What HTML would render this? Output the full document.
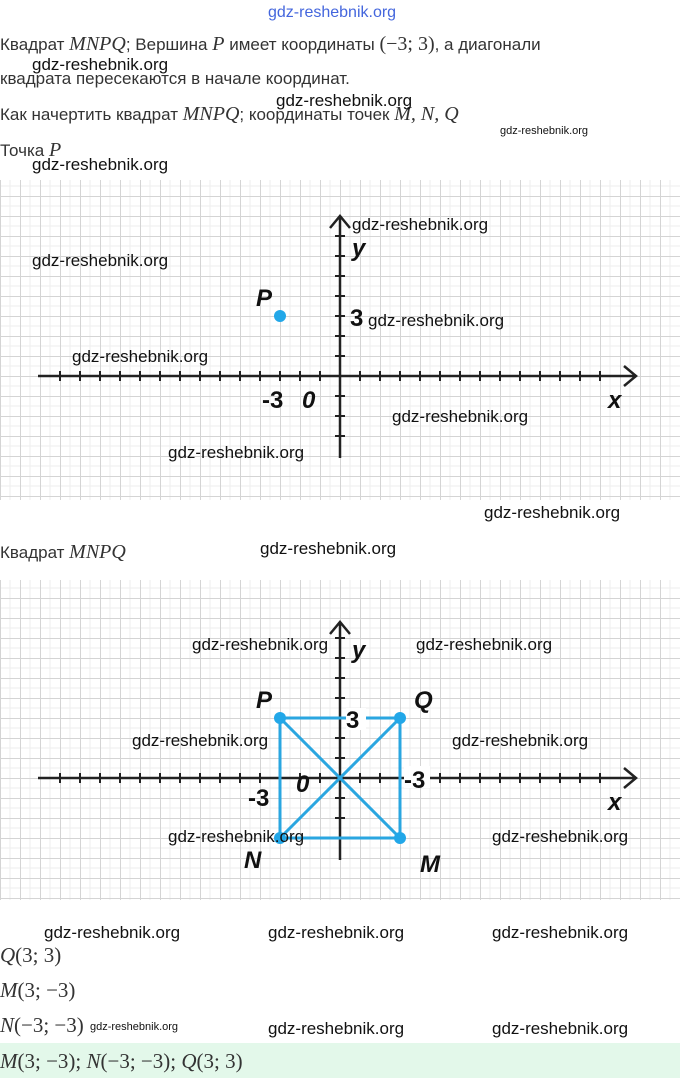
<!DOCTYPE html>
<html><head><meta charset="utf-8"><style>
body{margin:0;width:680px;height:1078px;background:#fff;overflow:hidden;font-family:"Liberation Sans",sans-serif;}
svg{display:block}
.t{font-family:"Liberation Sans",sans-serif;font-size:17px;fill:#333}
.m{font-family:"Liberation Serif",serif;font-style:italic;font-size:20px;fill:#333}
.w{font-family:"Liberation Sans",sans-serif;font-size:17px;fill:#111}
.lb{font-family:"Liberation Sans",sans-serif;font-weight:bold;font-style:italic;font-size:24px;fill:#111}
.n{font-family:"Liberation Sans",sans-serif;font-weight:bold;font-size:24px;fill:#111}
</style></head><body>
<svg width="680" height="1078" viewBox="0 0 680 1078">
<defs>
<pattern id="g1" x="0" y="16" width="20" height="20" patternUnits="userSpaceOnUse">
<path d="M0 10H20M10 0V20" stroke="#eee" stroke-width="1" fill="none"/>
<path d="M0 0.5H20M0.5 0V20" stroke="#d4d4d4" stroke-width="1" fill="none"/>
</pattern>
<pattern id="g2" x="0" y="18" width="20" height="20" patternUnits="userSpaceOnUse">
<path d="M0 10H20M10 0V20" stroke="#eee" stroke-width="1" fill="none"/>
<path d="M0 0.5H20M0.5 0V20" stroke="#d4d4d4" stroke-width="1" fill="none"/>
</pattern>
</defs>
<text x="268" y="17" style="font-family:'Liberation Sans',sans-serif;font-size:16px;fill:#4466dd">gdz-reshebnik.org</text>
<text x="0" y="50" class="t">Квадрат <tspan class="m">MNPQ</tspan>; Вершина <tspan class="m">P</tspan> имеет координаты <tspan class="m" style="font-style:normal">(−3; 3)</tspan>, а диагонали</text>
<text x="0" y="84" class="t">квадрата пересекаются в начале координат.</text>
<text x="0" y="120" class="t">Как начертить квадрат <tspan class="m">MNPQ</tspan>; координаты точек <tspan class="m">M, N, Q</tspan></text>
<text x="0" y="156" class="t">Точка <tspan class="m">P</tspan></text>
<text x="32" y="70" class="w">gdz-reshebnik.org</text>
<text x="276" y="106" class="w">gdz-reshebnik.org</text>
<text x="500" y="134" style="font-family:'Liberation Sans',sans-serif;font-size:11px;fill:#111">gdz-reshebnik.org</text>
<text x="32" y="170" class="w">gdz-reshebnik.org</text>

<rect x="0" y="180" width="680" height="320" fill="url(#g1)"/>
<g stroke="#222" stroke-width="2.5" fill="none">
<path d="M38 376H636M624 366L636 376L624 386"/>
<path d="M340 458V216M330 228L340 216L350 228"/>
</g>
<g stroke="#222" stroke-width="2">
<path d="M60 371v10M80 371v10M100 371v10M120 371v10M140 371v10M160 371v10M180 371v10M200 371v10M220 371v10M240 371v10M260 371v10M280 371v10M300 371v10M320 371v10M360 371v10M380 371v10M400 371v10M420 371v10M440 371v10M460 371v10M480 371v10M500 371v10M520 371v10M540 371v10M560 371v10M580 371v10M600 371v10"/>
<path d="M335 236h10M335 256h10M335 276h10M335 296h10M335 316h10M335 336h10M335 356h10M335 396h10M335 416h10M335 436h10"/>
</g>
<circle cx="280" cy="316" r="6" fill="#22a7e8"/>
<text x="256" y="306" class="lb">P</text>
<text x="350" y="326" class="n">3</text>
<text x="262" y="408" class="n">-3</text>
<text x="302" y="408" class="lb">0</text>
<text x="352" y="256" class="lb">y</text>
<text x="608" y="408" class="lb">x</text>
<text x="352" y="230" class="w">gdz-reshebnik.org</text>
<text x="32" y="266" class="w">gdz-reshebnik.org</text>
<text x="368" y="326" class="w">gdz-reshebnik.org</text>
<text x="72" y="362" class="w">gdz-reshebnik.org</text>
<text x="392" y="422" class="w">gdz-reshebnik.org</text>
<text x="168" y="458" class="w">gdz-reshebnik.org</text>
<text x="484" y="518" class="w">gdz-reshebnik.org</text>

<text x="0" y="558" class="t">Квадрат <tspan class="m">MNPQ</tspan></text>
<text x="260" y="554" class="w">gdz-reshebnik.org</text>

<rect x="0" y="580" width="680" height="320" fill="url(#g2)"/>
<g stroke="#222" stroke-width="2.5" fill="none">
<path d="M38 778H636M624 768L636 778L624 788"/>
<path d="M340 860V622M330 634L340 622L350 634"/>
</g>
<g stroke="#222" stroke-width="2">
<path d="M60 773v10M80 773v10M100 773v10M120 773v10M140 773v10M160 773v10M180 773v10M200 773v10M220 773v10M240 773v10M260 773v10M280 773v10M300 773v10M320 773v10M360 773v10M380 773v10M400 773v10M420 773v10M440 773v10M460 773v10M480 773v10M500 773v10M520 773v10M540 773v10M560 773v10M580 773v10M600 773v10"/>
<path d="M335 638h10M335 658h10M335 678h10M335 698h10M335 718h10M335 738h10M335 758h10M335 798h10M335 818h10M335 838h10"/>
</g>
<g stroke="#2aa6e0" stroke-width="3" fill="none">
<path d="M280 718H400V838H280Z"/>
<path d="M280 718L400 838M400 718L280 838"/>
</g>
<g fill="#22a7e8"><circle cx="280" cy="718" r="6"/><circle cx="400" cy="718" r="6"/><circle cx="400" cy="838" r="6"/><circle cx="280" cy="838" r="6"/></g>
<rect x="346" y="708" width="20" height="22" fill="#fff"/>
<text x="346" y="728" class="n">3</text>
<rect x="404" y="766" width="26" height="22" fill="#fff"/>
<text x="404" y="788" class="n">-3</text>
<text x="248" y="806" class="n">-3</text>
<text x="296" y="792" class="lb">0</text>
<text x="256" y="708" class="lb">P</text>
<text x="414" y="708" class="lb">Q</text>
<text x="244" y="868" class="lb">N</text>
<text x="420" y="872" class="lb">M</text>
<text x="352" y="658" class="lb">y</text>
<text x="608" y="810" class="lb">x</text>
<text x="192" y="650" class="w">gdz-reshebnik.org</text>
<text x="416" y="650" class="w">gdz-reshebnik.org</text>
<text x="132" y="746" class="w">gdz-reshebnik.org</text>
<text x="452" y="746" class="w">gdz-reshebnik.org</text>
<text x="168" y="842" class="w">gdz-reshebnik.org</text>
<text x="492" y="842" class="w">gdz-reshebnik.org</text>

<text x="44" y="938" class="w">gdz-reshebnik.org</text>
<text x="268" y="938" class="w">gdz-reshebnik.org</text>
<text x="492" y="938" class="w">gdz-reshebnik.org</text>
<text x="0" y="962" class="m" style="font-size:21px"><tspan>Q</tspan><tspan style="font-style:normal">(3; 3)</tspan></text>
<text x="0" y="997" class="m" style="font-size:21px"><tspan>M</tspan><tspan style="font-style:normal">(3; −3)</tspan></text>
<text x="0" y="1032" class="m" style="font-size:21px"><tspan>N</tspan><tspan style="font-style:normal">(−3; −3)</tspan></text>
<text x="90" y="1030" style="font-family:'Liberation Sans',sans-serif;font-size:11px;fill:#111">gdz-reshebnik.org</text>
<text x="268" y="1034" class="w">gdz-reshebnik.org</text>
<text x="492" y="1034" class="w">gdz-reshebnik.org</text>
<rect x="0" y="1043" width="680" height="35" fill="#e3f8ea"/>
<text x="0" y="1068" class="m" style="font-size:21px"><tspan>M</tspan><tspan style="font-style:normal">(3; −3); </tspan><tspan>N</tspan><tspan style="font-style:normal">(−3; −3); </tspan><tspan>Q</tspan><tspan style="font-style:normal">(3; 3)</tspan></text>
</svg>
</body></html>
